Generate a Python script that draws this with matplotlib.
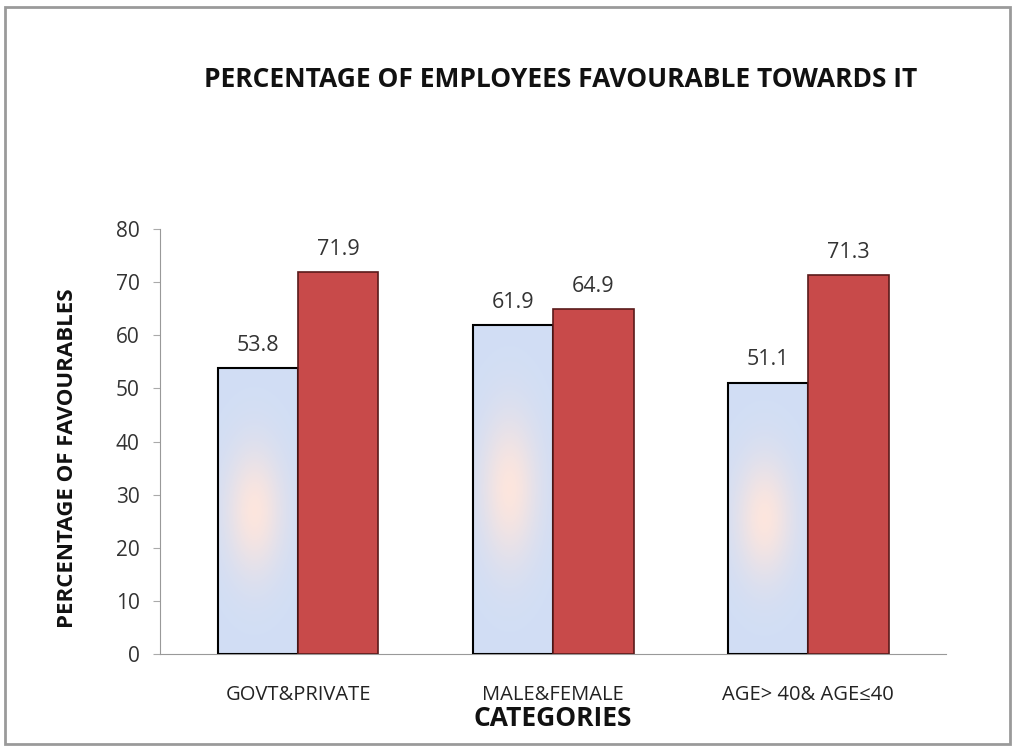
import numpy as np
import matplotlib.pyplot as plt
from matplotlib.patches import Rectangle

categories = ['GOVT&PRIVATE', 'MALE&FEMALE', 'AGE> 40& AGE\u226440']
first_vals = [53.8, 61.9, 51.1]
second_vals = [71.9, 64.9, 71.3]
yticks = [0, 10, 20, 30, 40, 50, 60, 70, 80]

plt.rcParams['font.family'] = ['Open Sans', 'DejaVu Sans']

fig = plt.figure(figsize=(10.15, 7.46), dpi=100)
ax = fig.add_axes([0.158, 0.123, 0.774, 0.570])

# outer frame of the chart
fig.patches.append(Rectangle((0.005, 0.003), 0.99, 0.987, transform=fig.transFigure,
                             fill=False, edgecolor='#9a9a9a', linewidth=2))

x = np.arange(len(categories))
w = 0.315

# soft blue gradient with a pinkish glow, used for the first series
gy, gx = np.mgrid[0:1:200j, 0:1:60j]
glow = np.exp(-(((gx - 0.45) / 0.35) ** 2 + ((gy - 0.5) / 0.22) ** 2))
base = np.array([0.82, 0.87, 0.96])
pink = np.array([0.99, 0.90, 0.87])
grad = base[None, None, :] * (1 - glow[..., None]) + pink[None, None, :] * glow[..., None]

bars1 = ax.bar(x - w / 2, first_vals, w, facecolor='none', edgecolor='black', linewidth=1.5, zorder=3)
for b in bars1:
    x0, y0 = b.get_x(), b.get_y()
    im = ax.imshow(grad, extent=[x0, x0 + b.get_width(), y0, y0 + b.get_height()],
                   aspect='auto', origin='lower', zorder=2)
    im.set_clip_path(b)

bars2 = ax.bar(x + w / 2, second_vals, w, color='#c84a4a', edgecolor='#5a1a1a', linewidth=1.2, zorder=3)

for b, v in zip(list(bars1) + list(bars2), first_vals + second_vals):
    ax.text(b.get_x() + b.get_width() / 2, v + 2.3, f'{v}', ha='center', va='bottom',
            fontsize=15.5, color='#333333')

ax.set_xlim(-0.54, 2.54)
ax.set_ylim(0, 80)
ax.set_yticks(yticks)
ax.set_xticks(x)
ax.set_xticklabels(categories, fontsize=14.5, color='#222222')
ax.tick_params(axis='y', labelsize=15, colors='#333333', length=5, pad=10, color='#aaaaaa')
ax.tick_params(axis='x', length=0, pad=22)
for s in ['top', 'right']:
    ax.spines[s].set_visible(False)
ax.spines['left'].set_color('#999999')
ax.spines['bottom'].set_color('#999999')

ax.set_xlabel('CATEGORIES', fontsize=19, fontweight='bold', labelpad=0, color='#111111')
ax.set_ylabel('PERCENTAGE OF FAVOURABLES', fontsize=16, fontweight='bold', color='#111111')
ax.yaxis.set_label_coords(-0.105, 0.46)

fig.text(0.552, 0.893, 'PERCENTAGE OF EMPLOYEES FAVOURABLE TOWARDS IT', ha='center', va='center',
         fontsize=19, fontweight='bold', color='#111111')

fig.savefig('out.png', dpi=100)
